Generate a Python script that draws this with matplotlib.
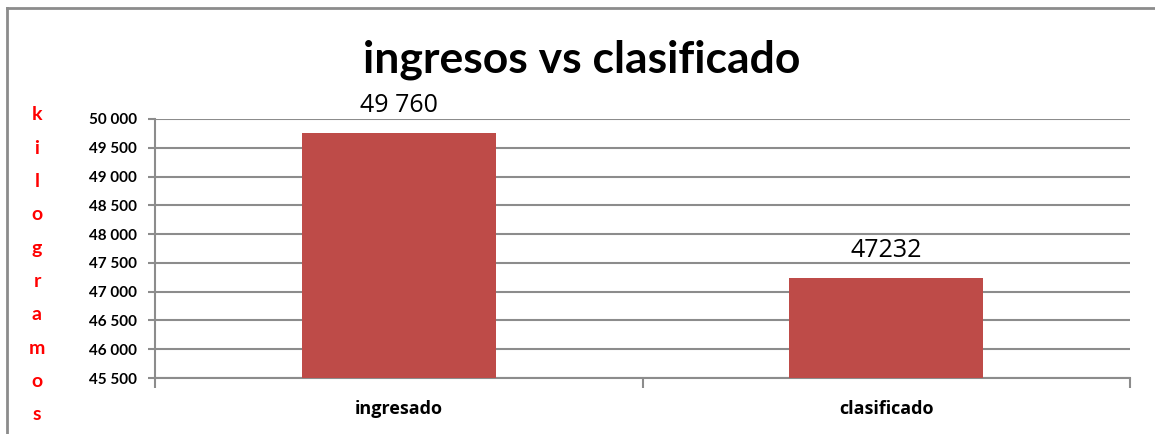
import matplotlib
matplotlib.use("Agg")
import matplotlib.pyplot as plt
from matplotlib.lines import Line2D
from matplotlib.ticker import FuncFormatter

categories = ["ingresado", "clasificado"]
values = [49760, 47232]
value_labels = ["49 760", "47232"]
title = "ingresos vs clasificado"
ylabel = "kilogramos"

plt.rcParams['font.family'] = ['Lato', 'DejaVu Sans']

fig = plt.figure(figsize=(11.55, 4.34), dpi=100)
ax = fig.add_axes([155/1155, 1-378/434, (1130-155)/1155, (378-119)/434])

x = list(range(len(categories)))
ax.bar(x, values, width=0.397, color="#BE4B48", zorder=3, bottom=0)
ax.set_xlim(-0.5, 1.5)
ax.set_ylim(45500, 50000)
ax.set_yticks(range(45500, 50001, 500))
ax.yaxis.set_major_formatter(FuncFormatter(lambda v, p: f"{int(v):,}".replace(",", " ")))
ax.grid(axis="y", color="#8c8c8c", linewidth=1.5, zorder=0)
for s in ["top", "right"]:
    ax.spines[s].set_visible(False)
for s in ["left", "bottom"]:
    ax.spines[s].set_color("#8c8c8c")
    ax.spines[s].set_linewidth(1.5)
ax.tick_params(axis="y", length=5, width=1.5, color="#8c8c8c", labelsize=11, pad=8)
for lab in ax.get_yticklabels():
    lab.set_fontweight("bold")
ax.set_xticks([-0.5, 0.5, 1.5])
ax.set_xticklabels([])
ax.set_xticks(x, minor=True)
ax.set_xticklabels(categories, minor=True, fontsize=13, fontweight="bold", family=["Open Sans", "DejaVu Sans"])
ax.tick_params(axis="x", which="major", length=7, width=1.5, color="#8c8c8c", direction="out")
ax.tick_params(axis="x", which="minor", length=0, pad=16)

for xi, v, lab in zip(x, values, value_labels):
    ax.annotate(lab, (xi, v), xytext=(0, 11), textcoords="offset points",
                ha="center", va="bottom", fontsize=18, fontweight="medium",
                family=["Open Sans", "DejaVu Sans"])

fig.text(582/1155, 1-60/434, title, ha="center", va="center", fontsize=32, fontweight="bold")

n = len(ylabel)
for i, ch in enumerate(ylabel):
    ypix = 115 + i * (415 - 115) / (n - 1)
    fig.text(37/1155, 1-ypix/434, ch, ha="center", va="center", color="red",
             fontsize=14, fontweight="bold")

fig.add_artist(Line2D([7/1155, 7/1155], [0, 1-8/434], transform=fig.transFigure, color="#8c8c8c", lw=2))
fig.add_artist(Line2D([7/1155, 1], [1-8/434, 1-8/434], transform=fig.transFigure, color="#8c8c8c", lw=2))

fig.savefig("out.png", dpi=100)
